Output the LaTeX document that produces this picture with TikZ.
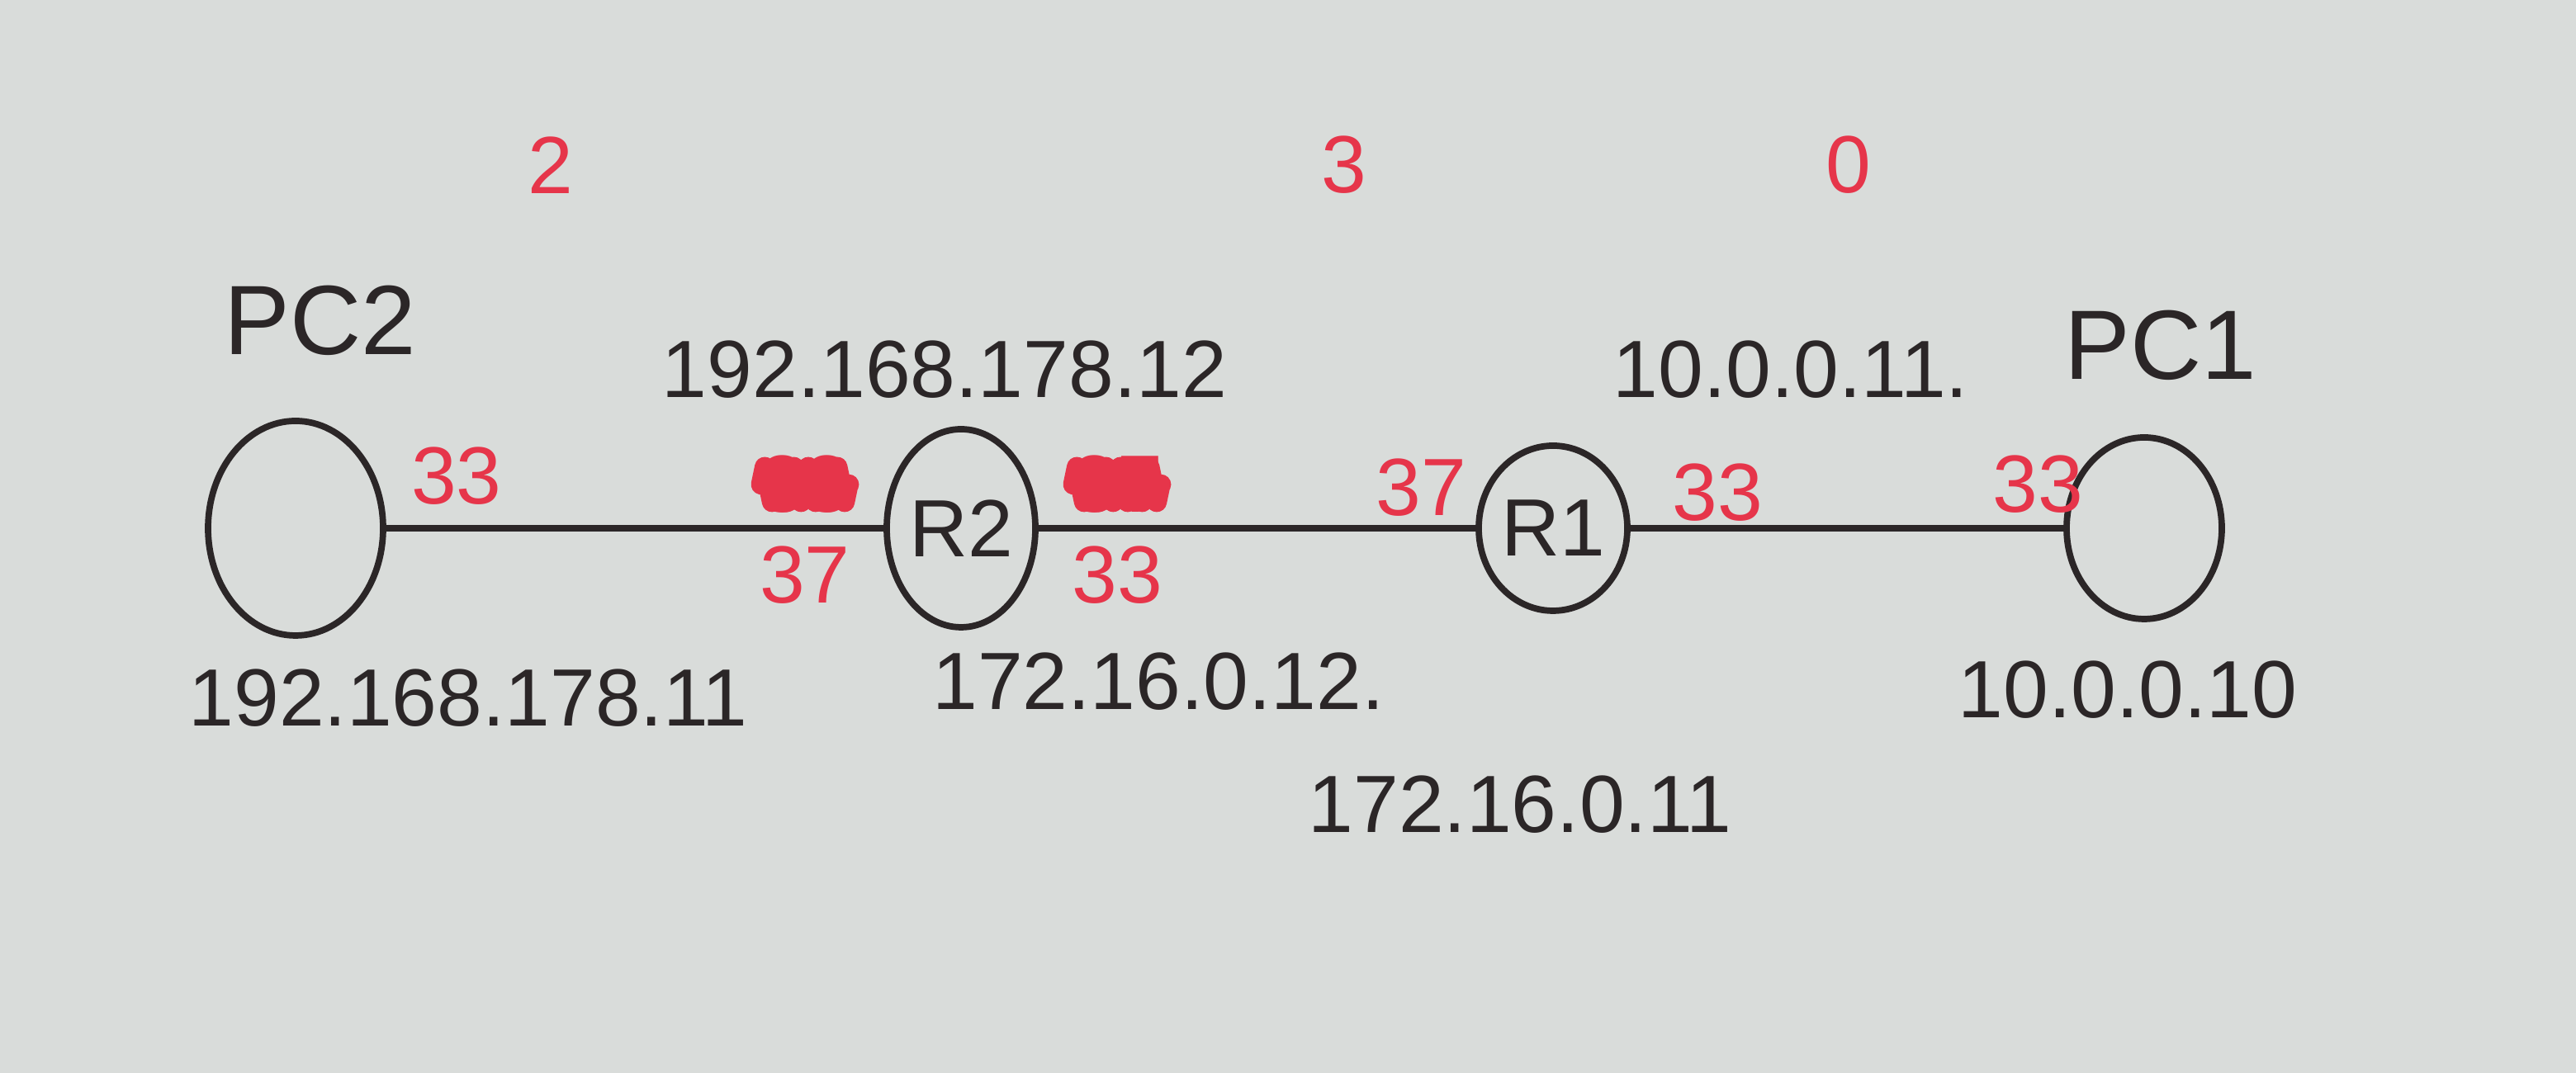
\documentclass[tikz,border=0pt]{standalone}
\usepackage{fontspec}
\setmainfont{Liberation Sans}
\usetikzlibrary{positioning}
\usetikzlibrary{shapes.geometric}
\usetikzlibrary{decorations.pathmorphing}
\definecolor{paper}{HTML}{D9DCDA}
\definecolor{ink}{HTML}{2B2627}
\definecolor{redink}{HTML}{E6354A}
\tikzset{dev/.style = {draw = ink, ellipse, line width = 2.2pt, inner sep = 0}}
\tikzset{addr/.style = {text = ink, font = \fontsize{28}{32}\selectfont}}
\tikzset{port/.style = {text = redink, font = \fontsize{28}{32}\selectfont}}
\tikzset{struck/.style = {draw = redink, line width = 7pt, line cap = round, line join = round,
    decorate, decoration = {zigzag, amplitude = 6pt, segment length = 5pt}}}

\begin{document}
\begin{tikzpicture}
      \useasboundingbox[fill = paper] (0, 0) rectangle (31.2, 13);
      % hosts and routers
      \node [dev, minimum width = 2.12cm, minimum height = 2.6cm] (pc2) at (3.58, 6.6) {};
      \node [dev, minimum width = 1.8cm, minimum height = 2.4cm, addr] (r2) at (11.64, 6.6) {R2};
      \node [dev, minimum width = 1.8cm, minimum height = 2.0cm, addr] (r1) at (18.81, 6.6) {R1};
      \node [dev, minimum width = 1.88cm, minimum height = 2.2cm] (pc1) at (25.97, 6.6) {};
      \draw [ink, line width = 2.2pt] (pc2.east) -- (r2.west);
      \draw [ink, line width = 2.2pt] (r2.east) -- (r1.west);
      \draw [ink, line width = 2.2pt] (r1.east) -- (pc1.west);
      % names and addresses
      \node [addr, font = \fontsize{34}{38}\selectfont] (pc2name) at (3.88, 9.12) {PC2};
      \node [addr, font = \fontsize{34}{38}\selectfont] (pc1name) at (26.17, 8.82) {PC1};
      \node [addr] (a1) at (5.67, 4.54) {192.168.178.11};
      \node [addr] (a2) at (11.44, 8.52) {192.168.178.12};
      \node [addr] (a3) at (14.03, 4.74) {172.16.0.12.};
      \node [addr] (a4) at (18.41, 3.25) {172.16.0.11};
      \node [addr] (a5) at (21.69, 8.52) {10.0.0.11.};
      \node [addr] (a6) at (25.77, 4.64) {10.0.0.10};
      % hop counts
      \foreach \x/\n in {6.67/2, 16.28/3, 22.39/0} {
        \node [port] at (\x, 11.0) {\n};
      }
      % port numbers
      \node [port] (p1) at (5.53, 7.23) {33};
      \node [port] (p2) at (9.75, 6.03) {37};
      \node [port] (p3) at (13.53, 6.03) {33};
      \node [port] (p4) at (17.21, 7.09) {37};
      \node [port] (p5) at (20.8, 7.03) {33};
      \node [port] (p6) at (24.68, 7.13) {33};
      \node [port] (x1) at (9.75, 7.13) {33};
      \node [port] (x2) at (13.53, 7.13) {37};
      \draw [struck] ([xshift = 4pt]x1.west) -- ([xshift = -4pt]x1.east);
      \draw [struck] ([xshift = 4pt]x2.west) -- ([xshift = -4pt]x2.east);
    \end{tikzpicture}
\end{document}
